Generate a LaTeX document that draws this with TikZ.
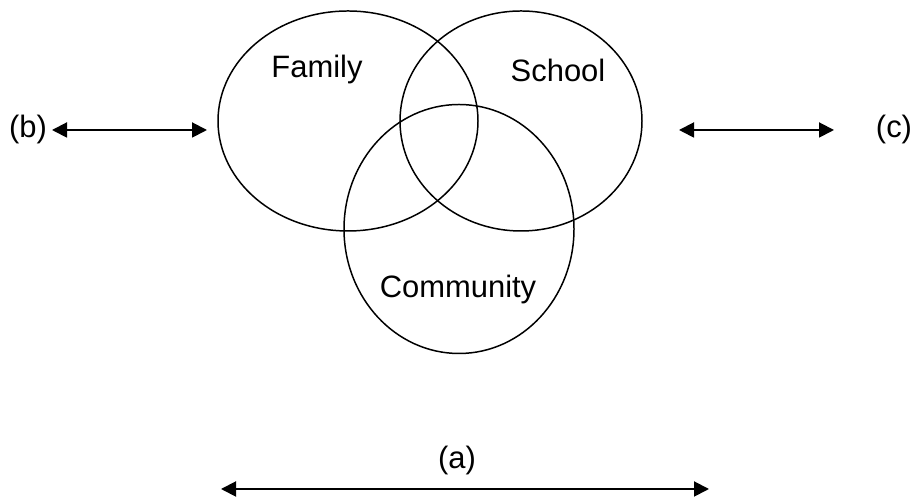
\documentclass[tikz,border=0pt]{standalone}
\usepackage{fontspec}
\setmainfont{Liberation Sans}
\usepackage{tikz}
\usetikzlibrary{arrows.meta,shapes.geometric}

\begin{document}
\begin{tikzpicture}[
  circulo/.style={ellipse, draw, line width=0.85pt, inner sep=0pt},
  flecha/.style={{Triangle[length=0.3cm,width=0.3cm]}-{Triangle[length=0.3cm,width=0.3cm]}, line width=1.1pt},
  etiqueta/.style={font=\fontsize{17.6}{21}\selectfont}]
\useasboundingbox (0,0) rectangle (18.3,10);
% Familia, escuela y comunidad
\node[circulo, minimum width=5.2cm, minimum height=4.4cm] (F) at (6.96,7.58) {};
\node[circulo, minimum width=4.84cm, minimum height=4.4cm] (S) at (10.42,7.58) {};
\node[circulo, minimum width=4.6cm, minimum height=4.98cm] (C) at (9.18,5.42) {};
\node[etiqueta] (tF) at (6.34,8.6) {Family};
\node[etiqueta] (tS) at (11.16,8.6) {School};
\node[etiqueta] (tC) at (9.16,4.2) {Community};
% Flechas (a), (b), (c)
\node[etiqueta] (b) at (0.56,7.4) {(b)};
\node[etiqueta] (c) at (17.88,7.4) {(c)};
\node[etiqueta] (a) at (9.14,0.78) {(a)};
\coordinate (b1) at (1.04,7.4);
\coordinate (b2) at (4.14,7.4);
\coordinate (c1) at (13.58,7.4);
\coordinate (c2) at (16.68,7.4);
\coordinate (a1) at (4.42,0.22);
\coordinate (a2) at (14.18,0.22);
\draw[flecha] (b1) -- (b2);
\draw[flecha] (c1) -- (c2);
\draw[flecha] (a1) -- (a2);
\end{tikzpicture}
\end{document}
